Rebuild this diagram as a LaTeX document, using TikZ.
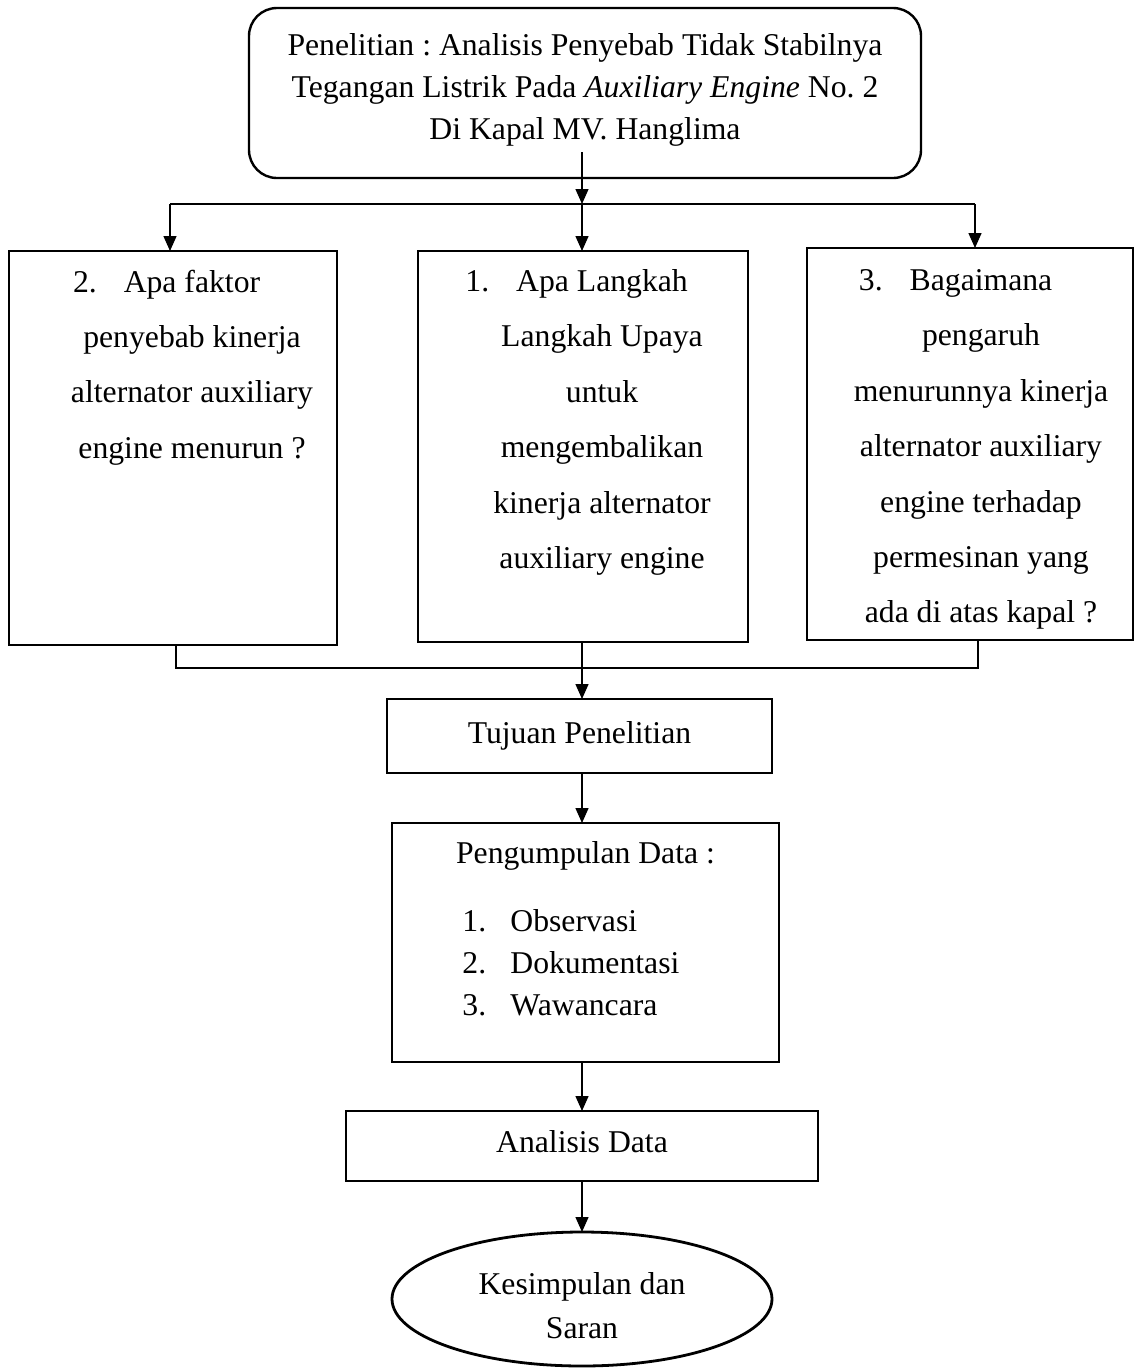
\documentclass[tikz,border=0pt]{standalone}
\usepackage{fontspec}
\setmainfont{Liberation Serif}
\usetikzlibrary{arrows.meta,shapes.geometric}
\begin{document}
\frenchspacing
\begin{tikzpicture}[x=0.5pt,y=-0.5pt,
  box/.style={draw, line width=1.4pt, inner sep=0pt, outer sep=0pt},
  conn/.style={line width=0.7pt},
  arr/.style={conn, -{Triangle[length=7.5pt,width=6.5pt]}},
  txt/.style={align=center, inner sep=0pt, font=\fontsize{15.85}{21}\selectfont},
  qtxt/.style={align=center, inner sep=0pt, font=\fontsize{15.85}{27.7}\selectfont},
]
\useasboundingbox (0,0) rectangle (1136,1372);

% top rounded box
\node[box, line width=1.2pt, rounded corners=14pt, minimum width=336pt, minimum height=85pt] (top) at (585,93) {};
\node[txt] (toptxt) at (585,90) {Penelitian : Analisis Penyebab Tidak Stabilnya\\
Tegangan Listrik Pada \textit{Auxiliary Engine} No. 2\\
Di Kapal MV. Hanglima};

% three question boxes
\node[box, minimum width=164pt, minimum height=197pt] (b2) at (173,448) {};
\node[box, minimum width=165pt, minimum height=195.5pt] (b1) at (583,446.5) {};
\node[box, minimum width=163pt, minimum height=196pt] (b3) at (970,444) {};

\node[qtxt] (q2) at (192,367.5) {\llap{2.\hspace{13.5pt}}Apa faktor\\
penyebab kinerja\\ alternator auxiliary\\ engine menurun ?};
\node[qtxt] (q1) at (602,422.5) {\llap{1.\hspace{13.5pt}}Apa Langkah\\
Langkah Upaya\\ untuk\\ mengembalikan\\ kinerja alternator\\ auxiliary engine};
\node[qtxt] (q3) at (981,449.5) {\llap{3.\hspace{13.5pt}}Bagaimana\\
pengaruh\\ menurunnya kinerja\\ alternator auxiliary\\ engine terhadap\\ permesinan yang\\ ada di atas kapal ?};

% lower chain
\node[box, txt, minimum width=192.5pt, minimum height=37pt] (tuj) at (579.5,736) {Tujuan Penelitian};
\node[box, minimum width=193.5pt, minimum height=119.5pt] (peng) at (585.5,942.5) {};
\node[txt] (pengt) at (585.5,856) {Pengumpulan Data :};
\node[txt, align=left, anchor=west] (items) at (462,963) {\makebox[24pt][l]{1.}Observasi\\
\makebox[24pt][l]{2.}Dokumentasi\\ \makebox[24pt][l]{3.}Wawancara};
\node[box, minimum width=236pt, minimum height=35pt] (ana) at (582,1146) {};
\node[txt] (anat) at (582,1142) {Analisis Data};
\node[box, ellipse, minimum width=190pt, minimum height=67pt] (ks) at (582,1299) {};
\node[txt, font=\fontsize{15.85}{22}\selectfont] (kst) at (582,1306) {Kesimpulan dan\\ Saran};

% connectors top
\coordinate (split) at (582,204);
\coordinate (sL) at (170,204);
\coordinate (sR) at (975,204);
\draw[arr] ([yshift=13pt]top.south -| split) -- (split);
\draw[conn] (sL) -- (sR);
\draw[arr] (sL) -- (sL |- b2.north);
\draw[arr] (split) -- (split |- b1.north);
\draw[arr] (sR) -- (sR |- b3.north);

% connectors bottom
\coordinate (jL) at (176,668);
\coordinate (jM) at (582,668);
\coordinate (jR) at (978,668);
\draw[conn] (jL |- b2.south) -- (jL) -- (jR) -- (jR |- b3.south);
\draw[conn] (jM |- b1.south) -- (jM);
\draw[arr] (jM) -- (jM |- tuj.north);
\draw[arr] (tuj.south -| jM) -- (peng.north -| jM);
\draw[arr] (peng.south -| jM) -- (ana.north -| jM);
\draw[arr] (ana.south -| jM) -- (ks.north);
\end{tikzpicture}
\end{document}
